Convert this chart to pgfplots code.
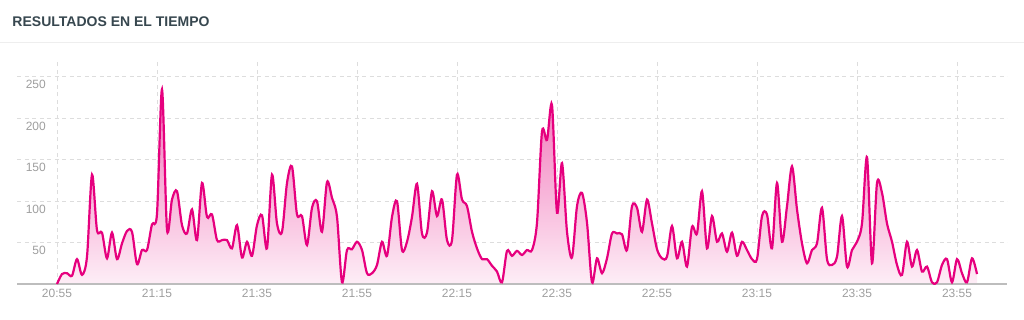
\documentclass[border=0pt]{standalone}
\usepackage{pgfplots}
\pgfplotsset{compat=1.18}
\usepackage{pgfplotstable}
\usepackage{fontspec}
\setmainfont{Liberation Sans}
\definecolor{mag}{HTML}{E6007E}
\definecolor{titlec}{HTML}{37474F}
\definecolor{tickc}{HTML}{9E9E9E}
\definecolor{gridc}{HTML}{DDDDDD}
\definecolor{basec}{HTML}{BDBDBD}
\definecolor{sepc}{HTML}{EEEEEE}

\pgfplotstableread{
t v
0 0
1 12
2 13
3 10
4 30
5 11
6 33
7 132
8 65
9 62
10 31
11 62
12 30
13 49
14 64
15 63
16 24
17 41
18 41
19 72
20 85
21 235
22 66
23 102
24 112
25 71
26 61
27 90
28 53
29 122
30 81
31 84
32 53
33 53
34 53
35 43
36 71
37 32
38 51
39 34
40 71
41 83
42 43
43 132
44 73
45 63
46 122
47 142
48 84
49 82
50 47
51 92
52 100
53 63
54 123
55 104
56 81
57 2
58 41
59 42
60 51
61 41
62 13
63 13
64 23
65 51
66 34
67 81
68 100
69 41
70 51
71 81
72 121
73 61
74 62
75 112
76 82
77 102
78 53
79 53
80 132
81 102
82 94
83 63
84 43
85 30
86 30
87 22
88 15
89 2
90 40
91 34
92 40
93 35
94 41
95 41
96 74
97 184
98 174
99 216
100 86
101 146
102 63
103 32
104 94
105 110
106 74
107 2
108 31
109 13
110 31
111 61
112 61
113 60
114 41
115 94
116 92
117 63
118 102
119 73
120 42
121 31
122 33
123 70
124 31
125 51
126 21
127 69
128 61
129 112
130 43
131 82
132 51
133 61
134 39
135 62
136 34
137 51
138 41
139 30
140 30
141 82
142 84
143 43
144 122
145 51
146 94
147 142
148 90
149 49
150 25
151 41
152 49
153 92
154 30
155 23
156 33
157 82
158 21
159 41
160 51
161 73
162 153
163 25
164 122
165 110
166 73
167 51
168 23
169 11
170 51
171 21
172 41
173 15
174 21
175 2
176 2
177 23
178 30
179 2
180 30
181 13
182 2
183 31
184 12
}\data

\begin{document}
\begin{tikzpicture}
\path[use as bounding box] (0,0) rectangle (1024pt,319pt);
\node[anchor=base west, inner sep=0pt, text=titlec, font=\fontsize{14}{16}\selectfont\bfseries] at (12.3pt,292pt) {RESULTADOS EN EL TIEMPO};
\draw[sepc, line width=1.5pt] (0,276.3pt) -- (1024pt,276.3pt);
\begin{axis}[
  at={(17pt,35pt)}, anchor=south west,
  scale only axis, width=990pt, height=222pt,
  xmin=-8, xmax=190, ymin=0, ymax=268,
  axis line style={draw=none},
  major tick length=0pt,
  xtick={0,20,...,180},
  xticklabels={20:55,21:15,21:35,21:55,22:15,22:35,22:55,23:15,23:35,23:55},
  ytick={50,100,...,250},
  grid=major,
  major grid style={gridc, line width=1pt, dash pattern=on 4pt off 3.5pt},
  tick label style={text=tickc, font=\fontsize{12}{14}\selectfont},
  xticklabel style={anchor=north, inner sep=0pt, yshift=-5pt},
  yticklabel style={anchor=north east, inner sep=0pt, xshift=29pt, yshift=-3.4pt},
  /pgf/number format/assume math mode=true,
]
\addplot[draw=none, smooth, top color=mag!55!white, bottom color=mag!6!white] table[x=t,y=v] {\data} \closedcycle;
\draw[basec, line width=1.2pt] (axis cs:-8,0) -- (axis cs:190,0);
\addplot[mag, line width=2.2pt, smooth, no markers] table[x=t,y=v] {\data};
\end{axis}
\end{tikzpicture}
\end{document}
